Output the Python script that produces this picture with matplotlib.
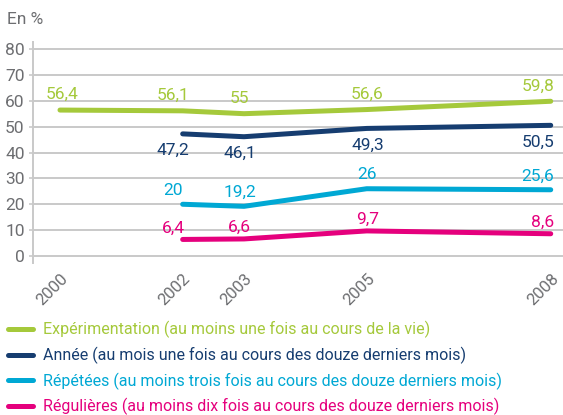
import numpy as np
import matplotlib
matplotlib.use('Agg')
import matplotlib.pyplot as plt

plt.rcParams['font.family'] = ['Roboto', 'DejaVu Sans']

years = [2000, 2002, 2003, 2005, 2008]
experimentation = [56.4, 56.1, 55, 56.6, 59.8]
annee = [np.nan, 47.2, 46.1, 49.3, 50.5]
repetees = [np.nan, 20, 19.2, 26, 25.6]
regulieres = [np.nan, 6.4, 6.6, 9.7, 8.6]

series_names = ['Expérimentation (au moins une fois au cours de la vie)',
                'Année (au mois une fois au cours des douze derniers mois)',
                'Répétées (au moins trois fois au cours des douze derniers mois)',
                'Régulières (au moins dix fois au cours des douze derniers mois)']
colors = ['#a5c93b', '#163d70', '#00a8d4', '#e5007d']
label_dy = [11, -12, 10, 8]   # vertical offset of value labels (points)
yticks = [0, 10, 20, 30, 40, 50, 60, 70, 80]

grey = '#6d6e71'
grid_grey = '#c9c9c9'

fig = plt.figure(figsize=(5.63, 4.15), dpi=100)
ax = fig.add_axes([33 / 563, 1 - 263 / 415, 530 / 563, 221 / 415])

x_dx = {2000: 1.5, 2002: -7, 2003: -3, 2005: 0.5}

lines = []
for vals, col, dy, name in zip([experimentation, annee, repetees, regulieres],
                               colors, label_dy, series_names):
    ln, = ax.plot(years, vals, color=col, lw=3.6, solid_capstyle='round',
                  zorder=3, label=name)
    lines.append(ln)
    for yr, v in zip(years, vals):
        if np.isnan(v):
            continue
        txt = f"{v:g}".replace('.', ',')
        if yr == 2008:
            ha, dx = 'right', 2.5
        else:
            ha, dx = 'center', x_dx[yr]
        ax.annotate(txt, (yr, v), xytext=(dx, dy), textcoords='offset points',
                    ha=ha, va='center', color=col, fontsize=12.5, zorder=4)

ax.set_xlim(1999.56, 2008.2)
ax.set_ylim(-2.7, 82.7)
ax.set_yticks(yticks)
ax.set_xticks(years)
ax.set_xticklabels([str(y) for y in years], rotation=45, ha='right', va='top',
                   rotation_mode='anchor')
ax.tick_params(axis='x', length=0, pad=6, labelsize=12, labelcolor=grey)
ax.tick_params(axis='y', length=3, width=1.2, color=grid_grey, pad=3,
               labelsize=12.5, labelcolor=grey)
ax.grid(axis='y', color=grid_grey, lw=1.4, zorder=1)
ax.set_axisbelow(True)
for s in ['top', 'right', 'bottom']:
    ax.spines[s].set_visible(False)
ax.spines['left'].set_color(grid_grey)
ax.spines['left'].set_linewidth(1.4)

fig.text(7 / 563, 1 - 20 / 415, 'En %', color=grey, fontsize=12.5, va='center', ha='left')

fig.legend(handles=lines, loc='upper left', bbox_to_anchor=(8 / 563, 1 - 321 / 415),
           frameon=False, fontsize=11.5, labelcolor='linecolor', handlelength=1.55,
           handletextpad=0.65, labelspacing=0.53, borderpad=0, borderaxespad=0)

fig.savefig('out.png', dpi=100)
